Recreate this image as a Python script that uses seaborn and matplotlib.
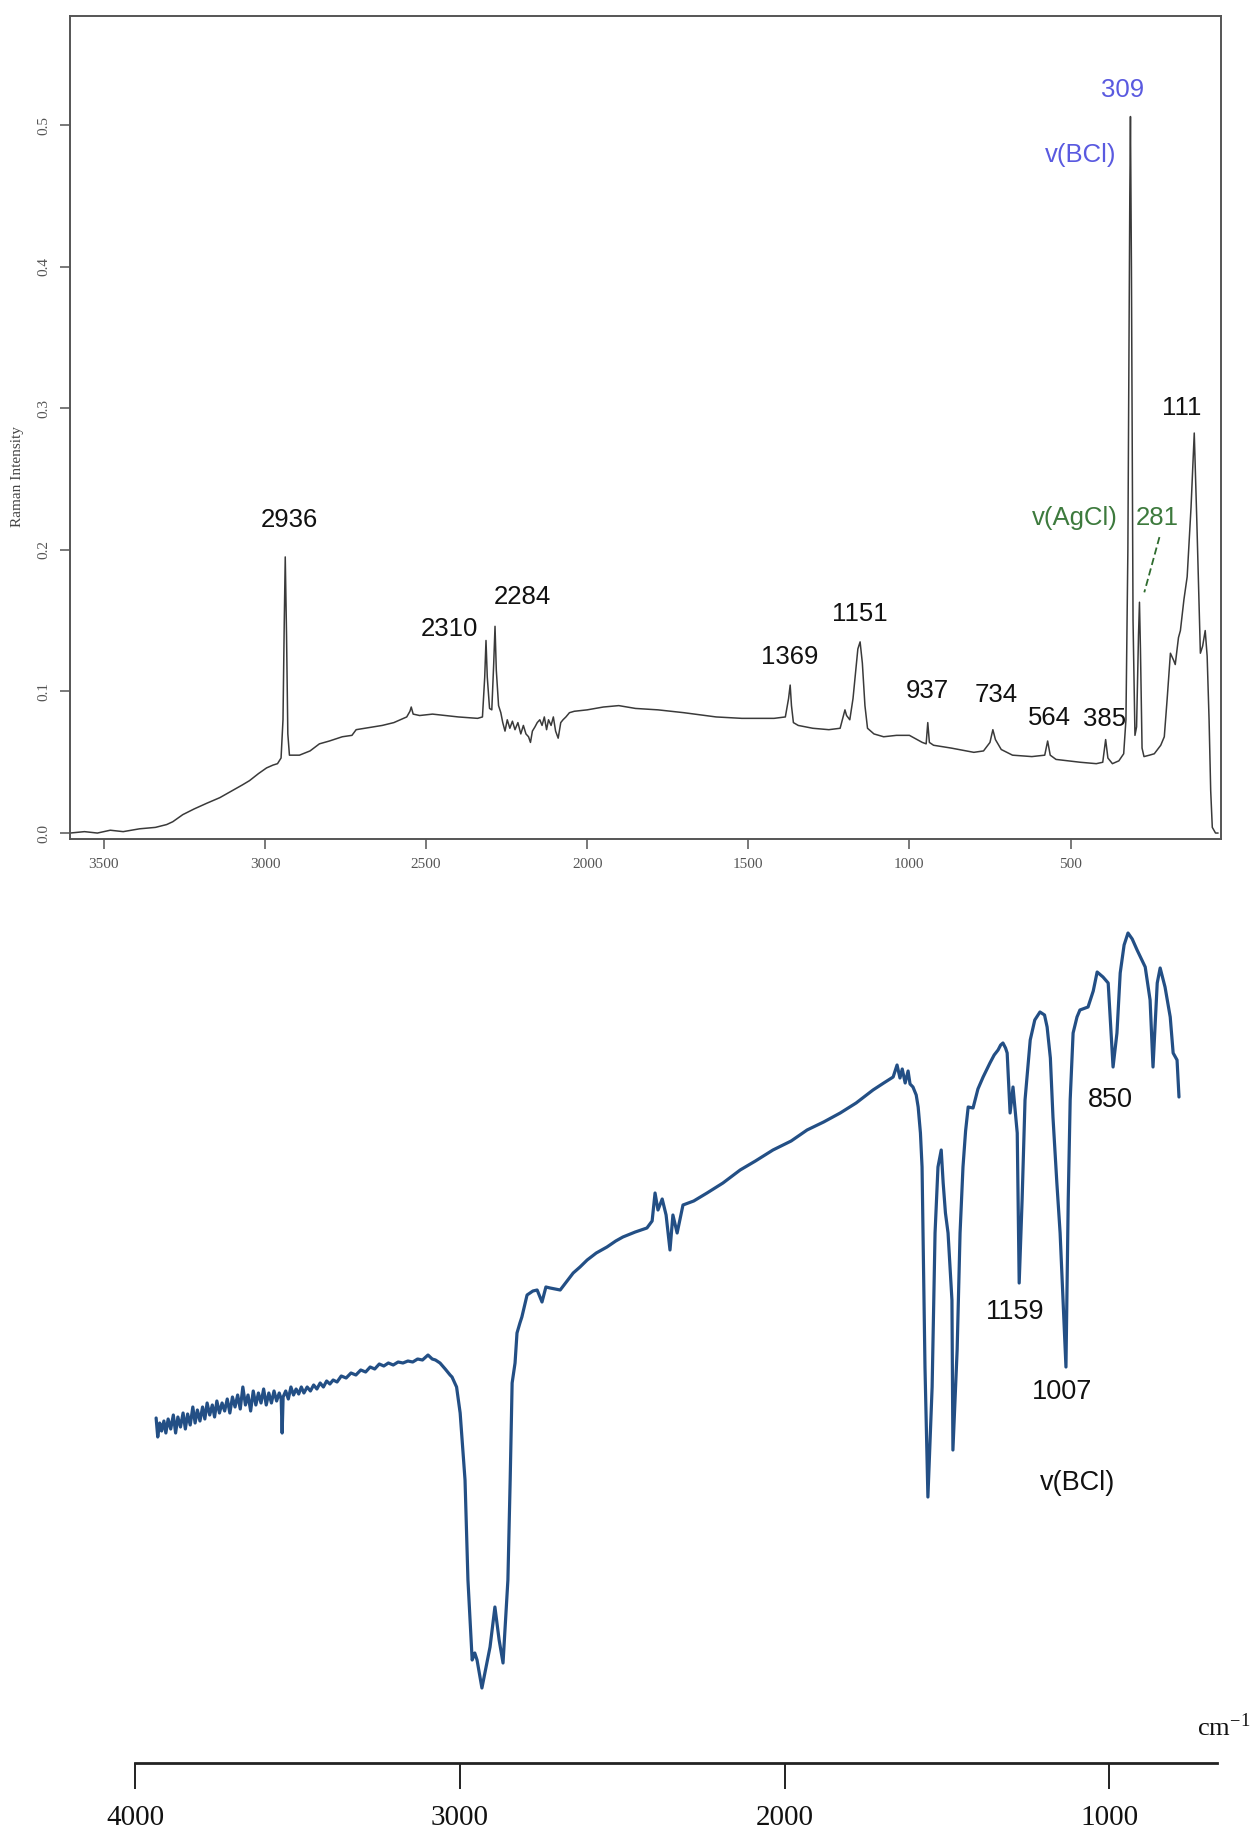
import matplotlib
matplotlib.use("Agg")
import matplotlib.pyplot as plt
import seaborn as sns
import pandas as pd

# ---------------- Raman spectrum (top) ----------------
raman_wn = [3605, 3560, 3520, 3480, 3440, 3389, 3340, 3305, 3286, 3255, 3220, 3181, 3140,
            3101, 3070, 3048, 3020, 2995, 2975, 2961, 2950, 2944, 2940, 2937, 2933, 2929,
            2924, 2893, 2860, 2831, 2800, 2760, 2730, 2717, 2690, 2636, 2600, 2560, 2550,
            2546, 2540, 2520, 2480, 2440, 2400, 2340, 2325, 2318, 2314, 2310, 2303, 2296,
            2290, 2286, 2282, 2275, 2268, 2262, 2255, 2248, 2240, 2232, 2224, 2215, 2206,
            2198, 2190, 2182, 2176, 2170, 2162, 2155, 2147, 2140, 2133, 2126, 2120, 2112,
            2105, 2098, 2090, 2082, 2075, 2066, 2055, 2040, 2000, 1950, 1902, 1850, 1780,
            1700, 1600, 1520, 1420, 1385, 1375, 1370, 1366, 1360, 1345, 1300, 1250, 1215,
            1200, 1195, 1185, 1175, 1160, 1153, 1146, 1138, 1130, 1110, 1080, 1040, 1000,
            960, 948, 943, 938, 925, 870, 800, 770, 750, 741, 733, 715, 680, 620, 580, 571,
            563, 545, 470, 420, 400, 391, 384, 370, 350, 335, 328, 322, 316, 314, 311, 306,
            300, 295, 289, 286, 283, 278, 272, 255, 240, 220, 209, 200, 190, 180, 175, 165,
            159, 148, 138, 126, 116, 108, 97, 90, 82, 76, 70, 65, 60, 50, 42]
raman_int = [0.000, 0.001, 0.000, 0.002, 0.001, 0.003, 0.004, 0.006, 0.008, 0.013, 0.017,
             0.021, 0.025, 0.030, 0.034, 0.037, 0.042, 0.046, 0.048, 0.049, 0.053, 0.080,
             0.150, 0.195, 0.140, 0.070, 0.055, 0.055, 0.058, 0.063, 0.065, 0.068, 0.069,
             0.073, 0.074, 0.076, 0.078, 0.082, 0.086, 0.089, 0.084, 0.083, 0.084, 0.083,
             0.082, 0.081, 0.082, 0.110, 0.136, 0.110, 0.088, 0.087, 0.120, 0.146, 0.115,
             0.090, 0.085, 0.078, 0.072, 0.080, 0.074, 0.079, 0.073, 0.078, 0.070, 0.076,
             0.070, 0.068, 0.064, 0.072, 0.075, 0.078, 0.080, 0.076, 0.082, 0.073, 0.080,
             0.076, 0.082, 0.072, 0.067, 0.078, 0.080, 0.082, 0.085, 0.086, 0.087, 0.089,
             0.090, 0.088, 0.087, 0.085, 0.082, 0.081, 0.081, 0.082, 0.095, 0.1045, 0.090,
             0.078, 0.076, 0.074, 0.073, 0.074, 0.087, 0.083, 0.080, 0.095, 0.130, 0.135,
             0.120, 0.090, 0.074, 0.070, 0.068, 0.069, 0.069, 0.064, 0.063, 0.078, 0.064,
             0.062, 0.060, 0.057, 0.058, 0.064, 0.073, 0.066, 0.059, 0.055, 0.054, 0.055,
             0.065, 0.055, 0.052, 0.050, 0.049, 0.050, 0.066, 0.053, 0.049, 0.051, 0.056,
             0.080, 0.200, 0.450, 0.506, 0.400, 0.150, 0.069, 0.075, 0.140, 0.163, 0.130,
             0.060, 0.054, 0.055, 0.056, 0.062, 0.068, 0.095, 0.127, 0.122, 0.119, 0.138,
             0.143, 0.165, 0.181, 0.230, 0.2825, 0.220, 0.127, 0.132, 0.143, 0.125, 0.080,
             0.030, 0.004, 0.000, 0.000]

raman_ticks_x = [3500, 3000, 2500, 2000, 1500, 1000, 500]
raman_ticks_y = [0.0, 0.1, 0.2, 0.3, 0.4, 0.5]
raman_tick_labels_y = ["0.0", "0.1", "0.2", "0.3", "0.4", "0.5"]

raman_labels = ["2936", "2310", "2284", "1369", "1151", "937", "734", "564", "385", "111"]
raman_label_x = [2924, 2429, 2200, 1370, 1153, 943, 732, 565, 395, 156]
raman_label_y = [0.221, 0.144, 0.167, 0.124, 0.155, 0.100, 0.0975, 0.081, 0.0805, 0.300]

# ---------------- IR spectrum (bottom) ----------------
ir_wn = [3935, 3930, 3924, 3918, 3911, 3905, 3898, 3890, 3882, 3875, 3868, 3860, 3852, 3845,
         3838, 3830, 3822, 3815, 3808, 3800, 3792, 3785, 3778, 3770, 3762, 3755, 3748, 3740,
         3732, 3724, 3716, 3708, 3700, 3692, 3684, 3676, 3668, 3660, 3652, 3644, 3636, 3628,
         3620, 3612, 3604, 3596, 3588, 3580, 3572, 3564, 3556, 3550, 3547, 3544, 3536, 3528,
         3520, 3512, 3504, 3496, 3488, 3480, 3470, 3460, 3450, 3440, 3430, 3420, 3410, 3400,
         3390, 3378, 3365, 3350, 3335, 3320, 3305, 3290, 3276, 3262, 3248, 3234, 3220, 3205,
         3190, 3175, 3160, 3145, 3130, 3115, 3098, 3085, 3075, 3061, 3045, 3030, 3024, 3010,
         2999, 2984, 2975, 2962, 2954, 2947, 2932, 2907, 2892, 2879, 2867, 2852, 2845, 2839,
         2830, 2824, 2815, 2809, 2793, 2775, 2762, 2747, 2735, 2722, 2691, 2670, 2651, 2630,
         2608, 2580, 2547, 2520, 2498, 2460, 2424, 2408, 2399, 2390, 2377, 2365, 2353, 2344,
         2331, 2313, 2280, 2239, 2190, 2137, 2090, 2036, 1980, 1931, 1880, 1829, 1780, 1728,
         1695, 1666, 1654, 1645, 1638, 1629, 1620, 1614, 1605, 1595, 1589, 1582, 1577, 1568,
         1559, 1546, 1537, 1528, 1518, 1512, 1505, 1497, 1485, 1482, 1469, 1460, 1451, 1443,
         1435, 1420, 1405, 1389, 1368, 1355, 1343, 1335, 1328, 1320, 1315, 1306, 1297, 1284,
         1278, 1269, 1260, 1250, 1244, 1230, 1214, 1200, 1192, 1182, 1174, 1162, 1152, 1134,
         1127, 1121, 1112, 1100, 1091, 1066, 1050, 1038, 1020, 1004, 989, 977, 967, 955, 943,
         930, 915, 890, 875, 866, 853, 844, 829, 813, 804, 792, 786]
ir_t = [34.5, 32.6, 34.0, 33.2, 34.2, 33.0, 34.4, 33.4, 34.8, 33.0, 34.6, 33.6, 35.0, 33.4,
        34.9, 33.8, 35.6, 34.0, 35.3, 34.2, 35.6, 34.4, 36.0, 34.8, 35.8, 34.6, 36.2, 35.0,
        36.0, 35.2, 36.4, 35.0, 36.6, 35.6, 36.8, 35.4, 37.6, 35.8, 36.8, 35.2, 37.2, 35.8,
        37.0, 36.0, 37.4, 35.8, 37.0, 36.0, 37.2, 36.2, 37.0, 36.4, 33.0, 36.6, 37.2, 36.4,
        37.6, 36.8, 37.4, 36.9, 37.6, 37.0, 37.6, 37.2, 37.8, 37.4, 38.0, 37.6, 38.2, 37.9,
        38.3, 38.1, 38.7, 38.5, 39.0, 38.8, 39.3, 39.1, 39.6, 39.4, 39.9, 39.7, 40.0, 39.8,
        40.1, 40.0, 40.2, 40.1, 40.4, 40.3, 40.8, 40.4, 40.3, 40.0, 39.4, 38.8, 38.6, 37.6,
        35.0, 28.3, 18.3, 10.3, 11.0, 10.3, 7.5, 11.6, 15.6, 12.3, 10.0, 18.3, 28.3, 38.0,
        40.0, 43.0, 44.0, 44.6, 46.8, 47.2, 47.3, 46.1, 47.6, 47.5, 47.3, 48.2, 49.0, 49.6,
        50.3, 51.0, 51.6, 52.2, 52.6, 53.1, 53.5, 54.2, 57.0, 55.3, 56.4, 54.8, 51.3, 54.8,
        53.0, 55.8, 56.2, 57.0, 58.0, 59.3, 60.2, 61.3, 62.2, 63.3, 64.1, 65.0, 66.0, 67.3,
        68.0, 68.6, 69.8, 68.5, 69.4, 68.0, 69.2, 67.9, 67.6, 66.8, 65.6, 63.0, 59.6, 39.6,
        26.6, 37.6, 53.0, 59.6, 61.3, 58.0, 55.0, 53.0, 46.3, 31.3, 41.3, 53.0, 59.6, 63.2,
        65.6, 65.5, 67.4, 68.6, 70.0, 70.8, 71.3, 71.8, 72.0, 71.5, 71.0, 65.0, 67.6, 63.0,
        48.0, 56.3, 66.3, 70.0, 72.3, 74.3, 75.1, 74.8, 73.6, 70.5, 64.6, 58.0, 53.0, 39.6,
        56.3, 66.3, 73.0, 74.6, 75.3, 75.6, 77.2, 79.1, 78.6, 78.0, 69.6, 73.0, 79.0, 81.8, 83.0,
        82.4, 81.3, 79.6, 76.3, 69.6, 78.0, 79.5, 77.6, 74.6, 71.0, 70.3, 66.6]

ir_ticks_x = [4000, 3000, 2000, 1000]
ir_labels = ["1159", "1007", "850", "v(BCl)"]
ir_label_x = [1291, 1146, 998, 1097]
ir_label_y = [45.1, 37.1, 66.3, 28.0]

raman_df = pd.DataFrame({"wavenumber": raman_wn, "intensity": raman_int})
ir_df = pd.DataFrame({"wavenumber": ir_wn, "transmittance": ir_t})

# ---------------- figure ----------------
sns.set_theme(style="white")
plt.rcParams['font.family'] = ['Liberation Sans', 'DejaVu Sans']
plt.rcParams['mathtext.fontset'] = 'stix'

W, H = 1252, 1836
fig = plt.figure(figsize=(W / 100, H / 100), dpi=100)
ax1 = fig.add_axes([70 / W, 1 - 839 / H, (1221 - 70) / W, (839 - 16) / H])
ax2 = fig.add_axes([135 / W, 1 - 1763 / H, (1217 - 135) / W, (1763 - 880) / H])

# Top: Raman
sns.lineplot(data=raman_df, x="wavenumber", y="intensity", ax=ax1, color="#3a3a3a",
             linewidth=1.1, estimator=None, sort=False)
ax1.set_xlim(3605, 33)
ax1.set_ylim(-0.0042, 0.577)
ax1.set_xticks(raman_ticks_x)
ax1.set_xticklabels([str(v) for v in raman_ticks_x])
ax1.set_yticks(raman_ticks_y)
ax1.set_yticklabels(raman_tick_labels_y)
for sp in ax1.spines.values():
    sp.set_visible(True)
    sp.set_color("#555555")
    sp.set_linewidth(1.4)
ax1.tick_params(axis="both", direction="out", length=7, width=1.1, color="#555555",
                labelsize=11, labelcolor="#555555", pad=7, bottom=True, left=True)
for lab in ax1.get_xticklabels() + ax1.get_yticklabels():
    lab.set_fontfamily("Liberation Serif")
for lab in ax1.get_yticklabels():
    lab.set_rotation(90)
    lab.set_va("center")
    lab.set_ha("right")
ax1.set_xlabel("Wavenumber cm-1", fontsize=12, family="Liberation Serif", color="#444444")
ax1.set_ylabel("Raman Intensity", fontsize=11, family="Liberation Serif", color="#444444")
ax1.xaxis.set_label_coords(0.4996, -0.0644)
ax1.xaxis.label.set_va("center")
ax1.yaxis.set_label_coords(-0.0452, 0.44)
ax1.yaxis.label.set_va("center")
ax1.yaxis.label.set_rotation_mode("default")

for t, x, y in zip(raman_labels, raman_label_x, raman_label_y):
    ax1.text(x, y, t, ha="center", va="center", fontsize=18.5, color="#111111")
ax1.text(339, 0.525, "309", ha="center", va="center", fontsize=18.5, color="#5a5ae0")
ax1.text(469, 0.479, "v(BCl)", ha="center", va="center", fontsize=18.5, color="#5a5ae0")
ax1.text(488, 0.2225, "v(AgCl)", ha="center", va="center", fontsize=18.5, color="#3d7a3d")
ax1.text(231, 0.2225, "281", ha="center", va="center", fontsize=18.5, color="#3d7a3d")
ax1.plot([224, 271], [0.209, 0.170], color="#2e6b2e", lw=1.3, ls=(0, (4, 2)))

# Bottom: IR
sns.lineplot(data=ir_df, x="wavenumber", y="transmittance", ax=ax2, color="#234f85",
             linewidth=2.3, estimator=None, sort=False)
ax2.set_xlim(4000, 669)
ax2.set_ylim(0, 88.3)
ax2.set_xticks(ir_ticks_x)
ax2.set_xticklabels([str(v) for v in ir_ticks_x])
ax2.set_yticks([])
for side in ["left", "right", "top"]:
    ax2.spines[side].set_visible(False)
ax2.spines["bottom"].set_color("#222222")
ax2.spines["bottom"].set_linewidth(2.0)
ax2.tick_params(axis="x", direction="out", length=19, width=1.4, color="#222222",
                labelsize=21, labelcolor="#111111", pad=11, bottom=True)
for lab in ax2.get_xticklabels():
    lab.set_fontfamily("Liberation Serif")
ax2.set_xlabel("")
ax2.set_ylabel("")
for t, x, y in zip(ir_labels, ir_label_x, ir_label_y):
    ax2.text(x, y, t, ha="center", va="center", fontsize=19.5, color="#111111")
fig.text(1250 / W, 1 - 1727 / H, r"cm$^{\mathregular{-1}}$", ha="right", va="center",
         fontsize=19, family="Liberation Serif", color="#111111")

fig.savefig("out.png", dpi=100, facecolor="white")
